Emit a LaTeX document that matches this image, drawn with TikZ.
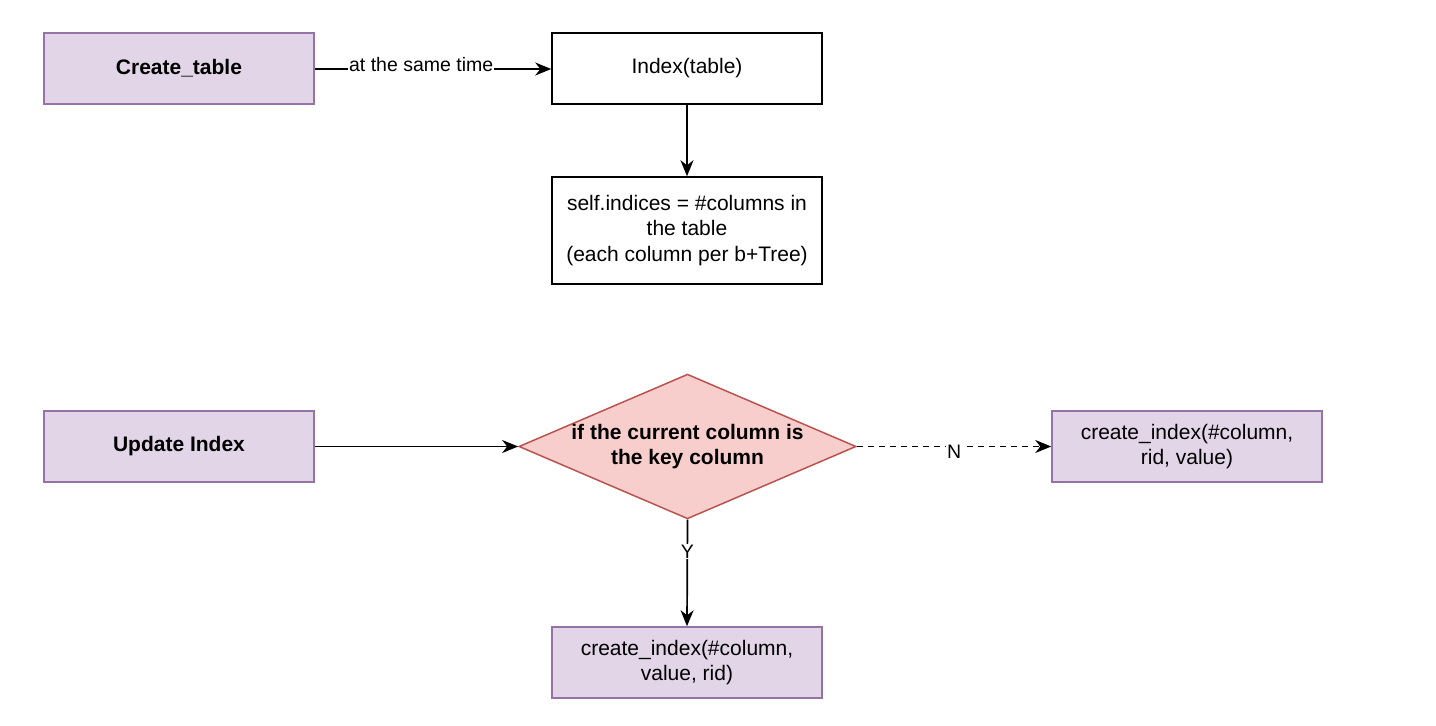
\documentclass[tikz,border=0pt]{standalone}
\usepackage{fontspec}
\setmainfont{Liberation Sans}
\usetikzlibrary{shapes.geometric,arrows.meta}
\definecolor{pfill}{HTML}{E1D5E7}
\definecolor{pdraw}{HTML}{9673A6}
\definecolor{rfill}{HTML}{F8CECC}
\definecolor{rdraw}{HTML}{B85450}
\begin{document}
\begin{tikzpicture}[x=1pt,y=-1pt,
  box/.style={draw, line width=1.5pt, minimum width=270pt, minimum height=71pt, inner sep=0pt, align=center, font=\fontsize{21}{25.5}\selectfont},
  pbox/.style={box, fill=pfill, draw=pdraw},
  wbox/.style={box, fill=white, draw=black},
  arr/.style={line width=1.7pt, -{Stealth[length=16pt,width=13pt,inset=5pt]}},
  lbl/.style={font=\fontsize{19.5}{23}\selectfont, fill=white, inner sep=1pt}
]
\useasboundingbox (0,0) rectangle (1436,726);
\node[pbox, font=\bfseries\fontsize{21}{25.5}\selectfont] (ct) at (179,68.5) {Create\_table};
\node[wbox] (idx) at (687,68.5) {Index(table)};
\node[wbox, minimum height=107pt] (self) at (687,230.5) {self.indices = \#columns in\\the table\\(each column per b+Tree)};
\node[pbox, font=\bfseries\fontsize{21}{25.5}\selectfont] (ui) at (179,446.5) {Update Index};
\node[diamond, draw=rdraw, fill=rfill, line width=1.5pt, minimum width=333pt, minimum height=143pt, inner sep=0pt, aspect=2.33, align=center, font=\bfseries\fontsize{21}{25.5}\selectfont] (dec) at (687.5,446.5) {if the current column is\\the key column};
\node[pbox] (cr) at (1187,446.5) {create\_index(\#column,\\rid, value)};
\node[pbox] (cb) at (687,662.5) {create\_index(\#column,\\value, rid)};
\draw[arr] (ct.east |- 0,69) -- node[lbl, pos=0.45, yshift=4pt] {at the same time} (idx.west |- 0,69);
\draw[arr] (idx) -- (self);
\draw[arr] (ui) -- (dec.west);
\draw[arr, dashed, dash pattern=on 6pt off 5pt] (dec.east) -- node[lbl, pos=0.5, yshift=-5pt] {N} (cr.west);
\draw[arr] (dec.south) -- node[lbl, pos=0.3] {Y} (cb.north);
\end{tikzpicture}
\end{document}
